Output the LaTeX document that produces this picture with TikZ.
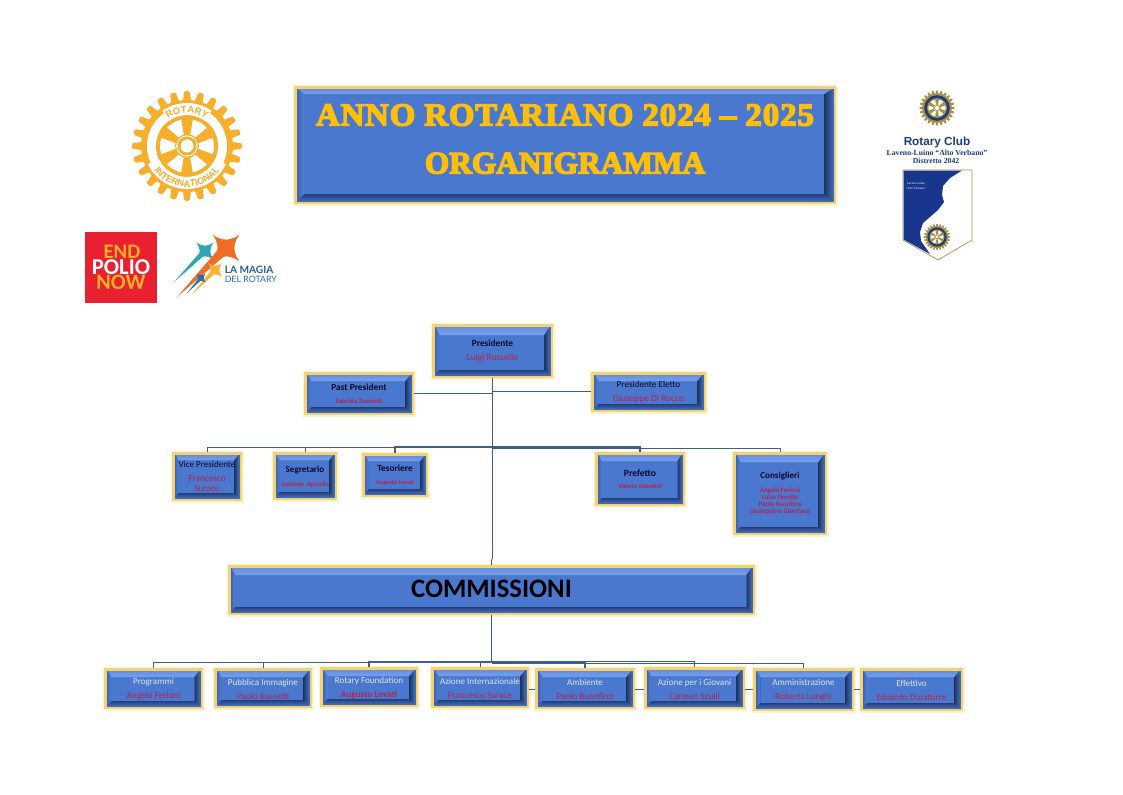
\documentclass[tikz,border=0pt]{standalone}
\usepackage{fontspec}
\setmainfont{Carlito}
\newfontfamily\ttlfont{Liberation Serif}[LetterSpace=3.2,BoldFeatures={FakeBold=4.6,FakeStretch=1.02}]
\newfontfamily\ttlfontb{Liberation Serif}[BoldFeatures={FakeBold=4.6,FakeStretch=1.0}]
\newfontfamily\lsans{Liberation Sans}
\newfontfamily\lserif{Liberation Serif}
\newfontfamily\lato{Lato}
\usetikzlibrary{decorations.text,calc}
\definecolor{boxgold}{HTML}{F2D272}
\definecolor{glow}{HTML}{FDF3D2}
\definecolor{bandblue}{HTML}{3F68B8}
\definecolor{facecol}{HTML}{4A78CE}
\definecolor{lightb}{HTML}{76A0EE}
\definecolor{leftb}{HTML}{5580D6}
\definecolor{rightb}{HTML}{1E3663}
\definecolor{botb}{HTML}{243F78}
\definecolor{ink}{HTML}{07072A}
\definecolor{crim}{HTML}{B8214F}
\definecolor{pale}{HTML}{DCE6F6}
\definecolor{conncol}{HTML}{3C5F8C}
\definecolor{rgold}{HTML}{F7AE2B}
\definecolor{ttlgold}{HTML}{FFBE0A}
\definecolor{navy}{HTML}{1C3C80}
\definecolor{dgold}{HTML}{A98F45}
\definecolor{polred}{HTML}{E8202F}
\tikzset{
  conn/.style={draw=conncol,line width=0.62pt},
  connthick/.style={draw=conncol,line width=1.3pt},
  orgnode/.style={inner sep=0pt,outer sep=0pt,align=center,text=ink}
}
\def\curls{10.5}
\def\curdy{0}
\newcommand{\bt}[2]{\def\curls{#1}\def\curdy{#2}}
\newcommand{\T}[3]{{\fontsize{#1}{#1}\selectfont\color{#2}#3}}
% name x1 y1 x2 y2 side top bottom content
\newcommand{\orgbox}[9]{%
  \fill[glow] (#2-1.5,#3-1.5) rectangle (#4+1.5,#5+1.5);
  \fill[boxgold] (#2,#3) rectangle (#4,#5);
  \fill[bandblue] (#2+2.5,#3+2.5) rectangle (#4-2.5,#5-2.5);
  \coordinate (oA) at (#2+3.5,#3+3);
  \coordinate (oB) at (#4-3.5,#3+3);
  \coordinate (oC) at (#4-3.5,#5-3.5);
  \coordinate (oD) at (#2+3.5,#5-3.5);
  \coordinate (fA) at (#2+3.5+#6,#3+3+#7);
  \coordinate (fB) at (#4-3.5-#6-1,#3+3+#7);
  \coordinate (fC) at (#4-3.5-#6-1,#5-3.5-#8-1.5);
  \coordinate (fD) at (#2+3.5+#6,#5-3.5-#8-1.5);
  \fill[facecol] (fA) rectangle (fC);
  \shade[top color=lightb!70!bandblue,bottom color=lightb] (oA) -- (oB) -- (fB) -- (fA) -- cycle;
  \shade[left color=bandblue,right color=leftb] (oA) -- (fA) -- (fD) -- (oD) -- cycle;
  \shade[left color=rightb,right color=bandblue] (oB) -- (oC) -- (fC) -- (fB) -- cycle;
  \shade[top color=botb,bottom color=bandblue] (oD) -- (fD) -- (fC) -- (oC) -- cycle;
  \pgfmathsetmacro{\bw}{(#4-#2)*0.75}
  \pgfmathsetmacro{\bh}{(#5-#3)*0.75}
  \node[orgnode,minimum width=\bw pt,minimum height=\bh pt] (#1) at ({(#2+#4)/2},{(#3+#5)/2}) {};
  \node[orgnode,font=\fontsize{6}{\curls}\selectfont,yshift=\curdy pt] (#1txt) at (#1.center) {#9};
}
% Rotary wheel: cx cy unit ringcolour goldcolour
\newcommand{\rwheel}[5]{%
  \begin{scope}[shift={(#1,#2)},x=#3pt,y=#3pt]
    \foreach \a in {0,15,...,345}{
      \fill[#5,rotate=\a] (43,-4.2) -- (53.5,-3) arc (-90:90:1.5 and 3) -- (43,4.2) -- cycle;
    }
    \fill[#5] (0,0) circle (46);
    \fill[#4] (0,0) circle (40);
    \fill[#5] (0,0) circle (31);
    \fill[white] (0,0) circle (27);
    \foreach \a in {30,90,...,330}{
      \fill[#5,rotate=\a] (9,-2.8) -- (28,-6) -- (28,6) -- (9,2.8) -- cycle;
    }
    \fill[#5] (0,0) circle (12);
    \fill[white] (0,0) circle (10.7);
    \fill[#5] (0,0) circle (9.5);
    \fill[white] (0,0) circle (6.5);
  \end{scope}
}
% star: cx cy r colour; tail tip tx ty, half width
\newcommand{\mstar}[7]{%
  \fill[#4] (#1+#7,#2+#7) -- (#5,#6) -- (#1-#7,#2-#7) -- cycle;
  \begin{scope}[shift={(#1,#2)},x=#3*0.75pt,y=-#3*0.75pt]
    \fill[#4] (-1,1) .. controls (-.35,.5) and (.35,.5) .. (1,1)
      .. controls (.5,.35) and (.5,-.35) .. (1,-1)
      .. controls (.35,-.5) and (-.35,-.5) .. (-1,-1)
      .. controls (-.5,-.35) and (-.5,.35) .. (-1,1) -- cycle;
  \end{scope}
}
\begin{document}
\begin{tikzpicture}[x=0.75pt,y=-0.75pt]
\useasboundingbox (0,0) rectangle (1123,794);
\fill[white] (0,0) rectangle (1123,794);

% --- Rotary International logo
\rwheel{187}{146}{0.75}{white}{rgold}
\begin{scope}[shift={(187,146)},x=0.75pt,y=0.75pt]
  \fill[white] (55:43) arc (55:125:43) -- (125:31) arc (125:55:31) -- cycle;
  \fill[white] (205:43) arc (205:335:43) -- (335:31) arc (335:205:31) -- cycle;
  \path[decorate,decoration={text along path,text align=center,
     text={|\lsans\fontsize{7.2}{7.2}\selectfont\bfseries\color{rgold}|ROTARY}}]
     (125:33) arc (125:55:33);
  \path[decorate,decoration={text along path,text align=center,
     text={|\lsans\fontsize{7}{7}\selectfont\bfseries\color{rgold}|INTERNATIONAL}}]
     (203:41) arc (203:337:41);
\end{scope}

% --- End Polio Now
\fill[polred] (85,232) rectangle (157,303);
\node[inner sep=0pt,text=rgold,font=\fontsize{15.5}{16}\selectfont\bfseries] (endtxt) at (122,252) {END};
\node[inner sep=0pt,text=white,font=\fontsize{17}{17}\selectfont\bfseries] (poliotxt) at (121,267.5) {POLIO};
\node[inner sep=0pt,text=rgold,font=\fontsize{16.5}{17}\selectfont\bfseries] (nowtxt) at (121,282.5) {NOW};

% --- La Magia del Rotary
\definecolor{mtealc}{HTML}{2FA6B5}
\definecolor{morange}{HTML}{EE6C23}
\definecolor{myellow}{HTML}{F6B335}
\definecolor{mblue}{HTML}{2C6CB0}
\mstar{205}{251}{8.5}{mtealc}{174}{282}{2}
\mstar{226}{248}{13.5}{morange}{177}{297}{3.5}
\mstar{215}{270}{7}{myellow}{192}{294}{1.8}
\mstar{201}{278}{4.5}{mblue}{187}{293}{1.2}
\node[inner sep=0pt,anchor=west,text=mblue!85!black,font=\lato\fontsize{7.6}{8}\selectfont\bfseries] (magia1) at (224.5,270) {LA MAGIA};
\node[inner sep=0pt,anchor=west,text=mblue,font=\lato\fontsize{6.6}{7}\selectfont] (magia2) at (224.5,279.5) {DEL ROTARY};

% --- Club logo (right)
\rwheel{937}{108}{0.24}{navy}{dgold}
\node[inner sep=0pt,text=navy,font=\lsans\fontsize{8.8}{9}\selectfont\bfseries] (clubname) at (937,142) {Rotary Club};
\node[inner sep=0pt,text=navy,font=\lserif\fontsize{5.8}{6}\selectfont\bfseries] (clubloc) at (937,152.5) {Laveno-Luino “Alto Verbano”};
\node[inner sep=0pt,text=navy,font=\lserif\fontsize{5.8}{6}\selectfont\bfseries] (clubdist) at (936,161) {Distretto 2042};
\filldraw[fill=white,draw=dgold,line width=0.5pt] (903,170) -- (972,170) -- (972,240) -- (938,260) -- (903,240) -- cycle;
\fill[navy!90!blue] (903.5,170.5) -- (962,170.5) -- (950,178) -- (943,186) -- (942,195)
  -- (944,202) -- (938,210) -- (930,217) -- (923,223) -- (920,232) -- (921,241) -- (930,254) -- (903.5,239.5) -- cycle;
\node[inner sep=0pt,text=white,align=center,font=\lserif\fontsize{2.4}{3.2}\selectfont] (pennanttxt) at (916,186) {Laveno-Luino\\“Alto Verbano”};
\rwheel{937}{237}{0.18}{navy}{dgold}

% --- Boxes
\bt{36}{4.5}
\orgbox{title}{294}{86}{836}{204}{7}{5}{5}{\T{24}{ttlgold}{\ttlfont\bfseries ANNO ROTARIANO 2024 – 2025}\\\T{23.5}{ttlgold}{\ttlfontb\bfseries ORGANIGRAMMA}}
\bt{10.5}{0}
\orgbox{pres}{432}{324}{553}{378}{4}{8}{3}{\T{7}{ink}{\bfseries Presidente}\\\T{7.1}{crim}{Luigi Russello}}
\bt{10}{0}
\orgbox{past}{304}{372}{414}{415}{4}{6}{3}{\T{7}{ink}{\bfseries Past President}\\\T{4.9}{crim}{\bfseries Fabrizio Zaninelli}}
\bt{10.5}{0}
\orgbox{elet}{591}{372}{706}{412}{4}{6}{3}{\T{6.9}{ink}{Presidente Eletto}\\\T{7.1}{crim}{Giuseppe Di Rocco}}
\bt{7.5}{0}
\orgbox{vice}{172}{452}{242}{501}{3}{5}{3}{\T{6.8}{ink}{Vice Presidente}\\[3pt]\T{6.9}{crim}{Francesco}\\\T{6.9}{crim}{Surace}}
\bt{10.5}{-0.5}
\orgbox{segr}{273}{452}{337}{500}{3}{5}{3}{\T{6.8}{ink}{\bfseries Segretario}\\\T{4.9}{crim}{\bfseries Gabriele \ Apicella}}
\bt{9.75}{-0.3}
\orgbox{teso}{362}{453}{428}{497}{3}{5}{3}{\T{7}{ink}{\bfseries Tesoriere}\\\T{4.6}{crim}{\bfseries Augusto Lovati}}
\bt{9.4}{0}
\orgbox{pref}{595}{452}{685}{506}{3}{6}{3}{\T{7.2}{ink}{\bfseries Prefetto}\\\T{4.8}{crim}{\bfseries Valeria Valentini}}
\bt{5.4}{0}
\orgbox{cons}{733}{452}{827}{535}{4}{7}{3}{\T{6.8}{ink}{\bfseries Consiglieri}\\[5pt]\T{5}{crim}{\bfseries Angelo Ferloni}\\\T{5}{crim}{\bfseries Luisa Fiorella}\\\T{5}{crim}{\bfseries Paolo Buonfino}\\\T{5.2}{crim}{\bfseries Giuseppina Giordano}}
\bt{10.5}{1}
\orgbox{comm}{228}{565}{755}{615}{4}{7}{3}{\T{20}{black}{\bfseries COMMISSIONI}}
\bt{10.5}{-0.75}
\orgbox{prog}{104}{668}{203}{709}{4}{6}{3}{\T{6.8}{pale}{Programmi}\\\T{6.9}{crim}{Angelo Ferloni}}
\orgbox{pubb}{214}{668}{312}{708}{4}{6}{3}{\T{6.8}{pale}{Pubblica Immagine}\\\T{6.9}{crim}{Paolo Bassetti}}
\orgbox{rotf}{320}{667}{418}{707}{4}{6}{3}{\T{6.8}{pale}{Rotary Foundation}\\\T{6.9}{crim}{\bfseries Augusto Lovati}}
\orgbox{azin}{431}{667}{529}{708}{4}{6}{3}{\T{6.8}{pale}{Azione Internazionale}\\\T{6.9}{crim}{Francesco Surace}}
\orgbox{ambi}{535}{668}{635}{709}{4}{6}{3}{\T{6.8}{pale}{Ambiente}\\\T{6.9}{crim}{Paolo Buonfino}}
\orgbox{giov}{644}{667}{745}{709}{4}{6}{3}{\T{6.8}{pale}{Azione per i Giovani}\\\T{6.9}{crim}{Carmen Sculli}}
\orgbox{ammi}{753}{668}{854}{711}{4}{6}{3}{\T{6.8}{pale}{Amministrazione}\\\T{6.9}{crim}{Roberta Longhi}}
\orgbox{effe}{860}{668}{963}{711}{4}{6}{3}{\T{6.8}{pale}{Effettivo}\\\T{6.9}{crim}{Edoardo Duratorre}}

% --- Connectors
\coordinate (tjog) at (492.5,558);
\coordinate (jpast) at (492.5,393.5);
\coordinate (jelet) at (492.5,391.5);
\coordinate (busa) at (492.5,447);
\coordinate (busb) at (492.5,448);
\coordinate (busc) at (491.5,662);
\coordinate (busd) at (491.5,663);
\coordinate (buse) at (491.5,661.5);
\coordinate (stuby) at (500,689);
\draw[conn] (pres.south) -- (tjog) -- ++(-1,2) -- (comm.north);
\draw[conn] (past.east |- jpast) -- (jpast);
\draw[conn] (elet.west |- jelet) -- (jelet);
\draw[conn] (busa) -| (vice.north);
\draw[conn] (busa) -| (segr.north);
\draw[connthick] (busa) -| (teso.north);
\draw[connthick] (busa) -| (pref.north);
\draw[conn] (busb) -| (cons.north);
\draw[conn] (comm.south) -- (busc);
\draw[conn] (busc) -| (prog.north);
\draw[conn] (busc) -| (pubb.north);
\draw[connthick] (busc) -| (rotf.north);
\draw[conn] (busc) -| (azin.north);
\draw[connthick] (busc) -| (ambi.north);
\draw[conn] (buse) -| (giov.north);
\draw[conn] (busd) -| (ammi.north);
\draw[conn] (azin.east |- stuby) -- (ambi.west |- stuby);
\draw[conn] (ambi.east |- stuby) -- (giov.west |- stuby);
\draw[conn] (giov.east |- stuby) -- (ammi.west |- stuby);
\draw[conn] (ammi.east |- stuby) -- (effe.west |- stuby);
\end{tikzpicture}
\end{document}
